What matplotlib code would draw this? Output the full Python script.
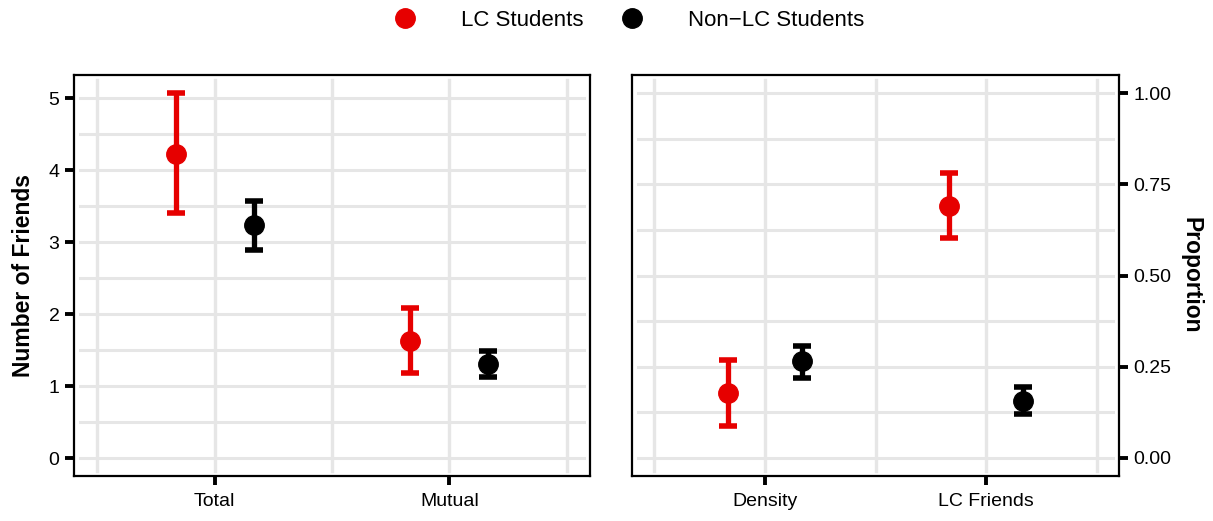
import matplotlib
matplotlib.use("Agg")
import matplotlib.pyplot as plt
from matplotlib.lines import Line2D
import numpy as np

plt.rcParams["font.family"] = ["Liberation Sans", "DejaVu Sans"]

# Mean friend counts with 95% interval bounds
count_labels = ["Total", "Mutual"]
count_lc_mean = [4.22, 1.63]
count_lc_low = [3.41, 1.18]
count_lc_high = [5.07, 2.08]
count_non_mean = [3.23, 1.30]
count_non_low = [2.89, 1.13]
count_non_high = [3.57, 1.49]

# Proportions (network density, share of LC friends)
prop_labels = ["Density", "LC Friends"]
prop_lc_mean = [0.179, 0.691]
prop_lc_low = [0.087, 0.604]
prop_lc_high = [0.267, 0.781]
prop_non_mean = [0.265, 0.156]
prop_non_low = [0.220, 0.119]
prop_non_high = [0.306, 0.195]

RED = "#E60000"
BLACK = "#000000"
GRID = "#E6E6E6"
DODGE = 0.167


def draw_panel(ax, labels, groups, ymajor, yminor):
    x = np.arange(1, len(labels) + 1)
    for offset, mean, low, high, color in groups:
        mean = np.asarray(mean)
        yerr = [mean - np.asarray(low), np.asarray(high) - mean]
        ax.errorbar(x + offset, mean, yerr=yerr, fmt="o", color=color,
                    markersize=14, elinewidth=3.8, capsize=6.5, capthick=4,
                    zorder=3)

    # light grid, slightly inset from the panel border
    for y in list(ymajor) + list(yminor):
        ax.axhline(y, xmin=0.012, xmax=0.988, color=GRID, lw=2.2, zorder=0)
    xgrid = list(x) + list(np.arange(0.5, len(labels) + 1, 1.0))
    for xv in xgrid:
        ax.axvline(xv, ymin=0.012, ymax=0.988, color=GRID, lw=2.4, zorder=0)

    ax.set_xlim(0.4, len(labels) + 0.6)
    ax.set_xticks(x)
    ax.set_xticklabels(labels)
    ax.set_yticks(ymajor)
    for s in ax.spines.values():
        s.set_linewidth(1.6)
        s.set_color("black")
    ax.tick_params(axis="both", length=6.5, width=2.8, labelsize=14,
                   colors="black", pad=4)
    ax.tick_params(axis="x", pad=6)


fig = plt.figure(figsize=(12.13, 5.21), dpi=100)
ax1 = fig.add_axes([74 / 1213, 45 / 521, 516 / 1213, 401 / 521])
ax2 = fig.add_axes([632 / 1213, 45 / 521, 487 / 1213, 401 / 521])

draw_panel(ax1, count_labels,
           [(-DODGE, count_lc_mean, count_lc_low, count_lc_high, RED),
            (DODGE, count_non_mean, count_non_low, count_non_high, BLACK)],
           np.arange(0, 6, 1), np.arange(0.5, 5.0, 1))
ax1.set_ylim(-0.25, 5.32)
ax1.set_ylabel("Number of Friends", fontsize=16.5, fontweight="bold",
               labelpad=10)

draw_panel(ax2, prop_labels,
           [(-DODGE, prop_lc_mean, prop_lc_low, prop_lc_high, RED),
            (DODGE, prop_non_mean, prop_non_low, prop_non_high, BLACK)],
           np.arange(0, 1.01, 0.25), np.arange(0.125, 1.0, 0.25))
ax2.set_ylim(-0.05, 1.05)
ax2.yaxis.tick_right()
ax2.yaxis.set_label_position("right")
ax2.set_yticklabels([f"{v:.2f}" for v in np.arange(0, 1.01, 0.25)])
ax2.set_ylabel("Proportion", fontsize=16.5, fontweight="bold", rotation=-90,
               labelpad=22)

handles = [
    Line2D([], [], marker="o", linestyle="none", color=RED, markersize=14),
    Line2D([], [], marker="o", linestyle="none", color=BLACK, markersize=14),
]
fig.legend(handles, ["LC Students", "Non\u2212LC Students"], loc="center",
           bbox_to_anchor=(629 / 1213, 1 - 20 / 521), ncol=2, frameon=False,
           fontsize=16, handlelength=1, handletextpad=2.0, columnspacing=1.7)

fig.savefig("out.png", dpi=100, facecolor="white")
